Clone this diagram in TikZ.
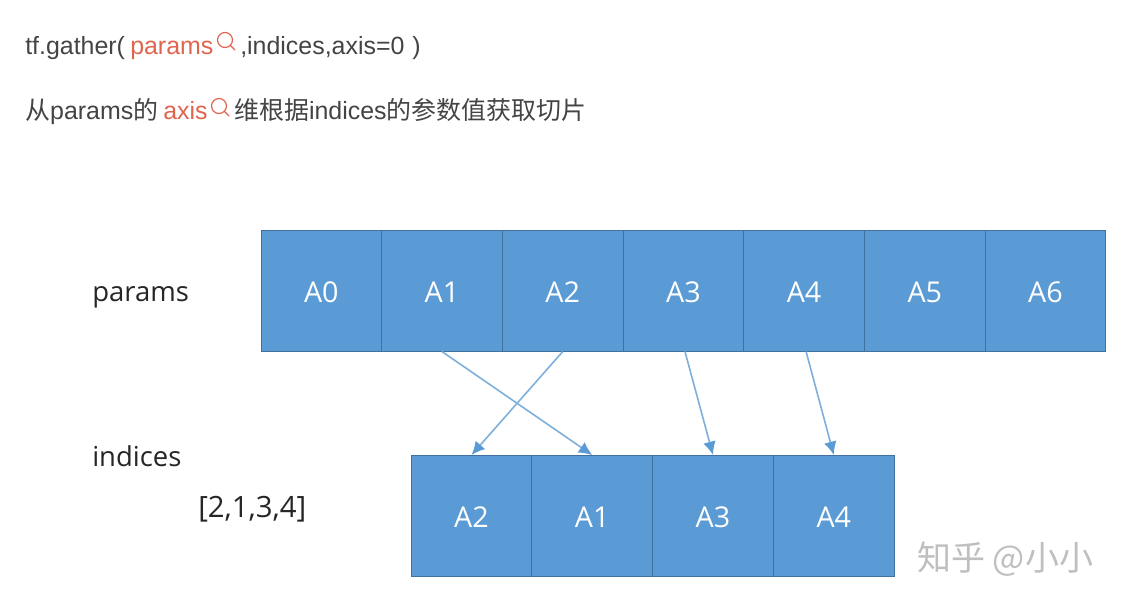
\documentclass[tikz,border=0pt]{standalone}
\usepackage{fontspec}
\setmainfont{Liberation Sans}
\newfontfamily\cjk{Noto Sans CJK SC}
\newfontfamily\cali{Open Sans}
\usetikzlibrary{arrows.meta}
\definecolor{cellfill}{HTML}{5B9BD5}
\definecolor{celledge}{HTML}{41719C}
\definecolor{linkc}{HTML}{7FB0DC}
\definecolor{ink}{HTML}{444444}
\definecolor{accent}{HTML}{E0654F}
\definecolor{labelc}{HTML}{262626}
\tikzset{
  cellbox/.style={draw=celledge,line width=0.7pt,fill=cellfill,minimum width=90.5pt,minimum height=90.5pt,inner sep=0pt,text=white,text height=17pt,text depth=0pt,font=\cali\fontsize{21.5}{21.5}\selectfont,anchor=north west},
  headtext/.style={inner sep=0pt,anchor=base west,text=ink,font=\fontsize{18.7}{22}\selectfont},
  acctext/.style={headtext,text=accent},
  sidelabel/.style={inner sep=0pt,anchor=base west,text=labelc,font=\cali\fontsize{20.6}{20.6}\selectfont},
  linkarrow/.style={draw=linkc,line width=1.2pt,-{Latex[length=10pt,width=9.5pt,color=cellfill]}},
  lens/.style={draw=accent,line width=0.9pt,line cap=round}
}
\begin{document}
\begin{tikzpicture}[x=0.75pt,y=-0.75pt]
\useasboundingbox (0,0) rectangle (1122,606);
\fill[white] (0,0) rectangle (1122,606);
% heading
\node[headtext] (t1) at (25,55) {tf.gather(};
\node[acctext] (t2) at (130,55) {params};
\coordinate (k1) at (225,40);
\draw[lens] (k1) circle (7.5);
\draw[lens] (230.5,45.5) -- (235,50);
\node[headtext] (t3) at (240,55) {,indices,axis=0};
\node[headtext] (t4) at (412,55) {)};
\node[headtext] (t5) at (25,120) {{\cjk 从}params{\cjk 的}};
\node[acctext] (t6) at (163,120) {axis};
\coordinate (k2) at (219,106);
\draw[lens] (k2) circle (7.5);
\draw[lens] (224.5,111.5) -- (229,116);
\node[headtext] (t7) at (234,120) {{\cjk 维根据}indices{\cjk 的参数值获取切片}};
% side labels
\node[sidelabel] (lp) at (92,301) {params};
\node[sidelabel] (li) at (92,466) {indices};
\node[sidelabel,font=\cali\fontsize{22}{22}\selectfont] (lv) at (198,517) {[2,1,3,4]};
% params row
\node[cellbox] (p0) at (260.5,230) {A0};
\node[cellbox] (p1) at (381.2,230) {A1};
\node[cellbox] (p2) at (501.9,230) {A2};
\node[cellbox] (p3) at (622.6,230) {A3};
\node[cellbox] (p4) at (743.3,230) {A4};
\node[cellbox] (p5) at (864,230) {A5};
\node[cellbox] (p6) at (984.7,230) {A6};
% result row
\node[cellbox] (q0) at (410.7,455) {A2};
\node[cellbox] (q1) at (531.4,455) {A1};
\node[cellbox] (q2) at (652.2,455) {A3};
\node[cellbox] (q3) at (773,455) {A4};
% connectors
\draw[linkarrow] (p1.south) -- (q1.north);
\draw[linkarrow] (p2.south) -- (q0.north);
\draw[linkarrow] ([xshift=1.2pt]p3.south) -- (q2.north);
\draw[linkarrow] ([xshift=1.5pt]p4.south) -- (q3.north);
% watermark
\node[inner sep=0pt,anchor=base west,text=black!25,font=\cjk\fontsize{25.5}{25.5}\selectfont] (wm) at (917,570) {知乎 @小小};
\end{tikzpicture}
\end{document}
